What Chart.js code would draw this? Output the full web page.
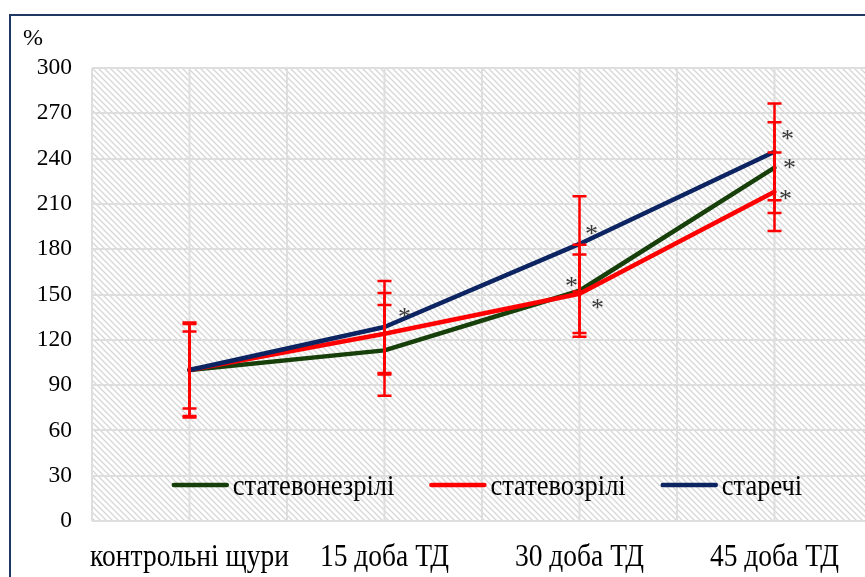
<!DOCTYPE html>
<html>
<head>
<meta charset="utf-8">
<script src="https://cdn.jsdelivr.net/npm/chart.js@4"></script>
<style>
  html, body { margin: 0; padding: 0; background: #fff; overflow: hidden; width: 865px; height: 577px; }
  #wrap { position: relative; width: 865px; height: 577px; overflow: hidden; }
  #frame { position: absolute; left: 9px; top: 14px; width: 1000px; height: 1000px;
           border: 2px solid #1f3864; box-sizing: border-box; }
  canvas { position: absolute; left: 0; top: 0; }
</style>
</head>
<body>
<div id="wrap">
  <div id="frame"></div>
  <canvas id="c" width="900" height="577"></canvas>
</div>
<script>
// Categories (time points) and tick values
const categories = ['контрольні щури', '15 доба ТД', '30 доба ТД', '45 доба ТД'];
const yTicks = [0, 30, 60, 90, 120, 150, 180, 210, 240, 270, 300];

// Series means, %
const immature = [100, 113, 152.5, 234];
const mature   = [100, 124, 150.5, 218];
const old      = [100, 128.5, 183.5, 244.5];

// Standard deviations, %
const immatureSd = [30.5, 30, 30.5, 30];
const matureSd   = [25.5, 27, 26, 26];
const oldSd      = [31.5, 30.5, 31.5, 32];

// Significance marks (*) per point
const immatureSig = [false, false, true, true];
const matureSig   = [false, false, true, true];
const oldSig      = [false, true, true, true];

const seriesNames = ['статевонезрілі', 'статевозрілі', 'старечі'];

const FONT = "'Liberation Serif', 'Times New Roman', serif";
const GRID = '#dedede';

// Diagonal hatch fill for the plot area
function makeHatch(ctx) {
  const t = document.createElement('canvas');
  t.width = 6; t.height = 6;
  const g = t.getContext('2d');
  g.fillStyle = '#ffffff';
  g.fillRect(0, 0, 6, 6);
  g.strokeStyle = '#d6d6d6';
  g.lineWidth = 1.3;
  g.beginPath();
  g.moveTo(-1, -1); g.lineTo(7, 7);
  g.moveTo(-1, 5); g.lineTo(1, 7);
  g.moveTo(5, -1); g.lineTo(7, 1);
  g.stroke();
  return ctx.createPattern(t, 'repeat');
}

// Text drawn with a slight vertical stretch (tall serif lettering)
function tallText(ctx, text, x, y, sy) {
  ctx.save();
  ctx.translate(x, y);
  ctx.scale(1, sy);
  ctx.fillText(text, 0, 0);
  ctx.restore();
}

const backdrop = {
  id: 'backdrop',
  beforeDraw(chart) {
    const { ctx, chartArea: a, scales: { x } } = chart;
    ctx.save();
    ctx.fillStyle = makeHatch(ctx);
    ctx.fillRect(a.left, a.top, a.right - a.left, a.bottom - a.top);
    // vertical grid: at each category and between categories
    const step = x.getPixelForValue(1) - x.getPixelForValue(0);
    ctx.strokeStyle = GRID;
    ctx.lineWidth = 2;
    ctx.beginPath();
    for (let i = 0; i < categories.length; i++) {
      const px = x.getPixelForValue(i);
      [px - step / 2, px, px + step / 2].forEach(v => {
        ctx.moveTo(v, a.top); ctx.lineTo(v, a.bottom);
      });
    }
    ctx.stroke();
    // axis unit
    ctx.fillStyle = '#000';
    ctx.font = '24px ' + FONT;
    ctx.textBaseline = 'alphabetic';
    ctx.fillText('%', 23, 45);
    // category labels
    ctx.font = '27.5px ' + FONT;
    ctx.textAlign = 'center';
    categories.forEach((c, i) => tallText(ctx, c, x.getPixelForValue(i), 566, 1.15));
    ctx.restore();
  }
};

const sdSets = [immatureSd, matureSd, oldSd];
const sigSets = [immatureSig, matureSig, oldSig];
// where each asterisk sits relative to its point
const sigOffsets = [
  [null, null, [-8, -9], [15, -4]],
  [null, null, [18, 10], [11, 3]],
  [null, [20, -14], [12, -14], [13, -17]]
];

const errorBars = {
  id: 'errorBars',
  afterDatasetsDraw(chart) {
    const { ctx, scales: { x, y } } = chart;
    ctx.save();
    ctx.strokeStyle = '#ff0000';
    ctx.lineWidth = 2.5;
    chart.data.datasets.forEach((ds, d) => {
      ds.data.forEach((v, i) => {
        const sd = sdSets[d][i];
        const px = x.getPixelForValue(i);
        const top = y.getPixelForValue(v + sd);
        const bot = y.getPixelForValue(v - sd);
        ctx.beginPath();
        ctx.moveTo(px, top); ctx.lineTo(px, bot);
        ctx.moveTo(px - 7, top); ctx.lineTo(px + 7, top);
        ctx.moveTo(px - 7, bot); ctx.lineTo(px + 7, bot);
        ctx.stroke();
      });
    });
    // significance asterisks
    ctx.fillStyle = '#3a3a3a';
    ctx.font = '26px ' + FONT;
    ctx.textAlign = 'center';
    ctx.textBaseline = 'alphabetic';
    chart.data.datasets.forEach((ds, d) => {
      ds.data.forEach((v, i) => {
        if (!sigSets[d][i]) return;
        const [dx, dy] = sigOffsets[d][i];
        ctx.fillText('*', x.getPixelForValue(i) + dx, y.getPixelForValue(v) + dy + 12);
      });
    });
    ctx.restore();
  }
};

const inlineLegend = {
  id: 'inlineLegend',
  afterDraw(chart) {
    const { ctx, chartArea: a } = chart;
    ctx.save();
    ctx.font = '26.5px ' + FONT;
    const sample = 53, gap = 6, itemGap = 37;
    const widths = chart.data.datasets.map(ds => sample + gap + ctx.measureText(ds.label).width);
    const total = widths.reduce((s, w) => s + w, 0) + itemGap * (widths.length - 1);
    let xPos = 488 - total / 2;
    const yPos = a.bottom - 36;
    chart.data.datasets.forEach((ds, i) => {
      ctx.strokeStyle = ds.borderColor;
      ctx.lineWidth = 4.5;
      ctx.lineCap = 'round';
      ctx.beginPath();
      ctx.moveTo(xPos, yPos); ctx.lineTo(xPos + sample, yPos);
      ctx.stroke();
      ctx.fillStyle = '#000';
      ctx.textBaseline = 'alphabetic';
      tallText(ctx, ds.label, xPos + sample + gap, yPos + 10, 1.1);
      xPos += widths[i] + itemGap;
    });
    ctx.restore();
  }
};

new Chart(document.getElementById('c'), {
  type: 'line',
  data: {
    labels: categories,
    datasets: [
      { label: seriesNames[0], data: immature, borderColor: '#163f0a', order: 2 },
      { label: seriesNames[1], data: mature,   borderColor: '#ff0000', order: 1 },
      { label: seriesNames[2], data: old,      borderColor: '#0c2461', order: 0 }
    ]
  },
  options: {
    responsive: false,
    animation: false,
    devicePixelRatio: 1,
    layout: { padding: { left: 0, top: 68, right: 28, bottom: 0 } },
    elements: {
      line: { borderWidth: 4.5, tension: 0, borderCapStyle: 'round', borderJoinStyle: 'round' },
      point: { radius: 0 }
    },
    plugins: { legend: { display: false }, tooltip: { enabled: false } },
    scales: {
      x: {
        type: 'category',
        offset: true,
        grid: { display: false },
        border: { display: false },
        ticks: { display: false },
        afterFit(s) { s.height = 56; }
      },
      y: {
        min: 0, max: 300,
        afterBuildTicks(s) { s.ticks = yTicks.map(v => ({ value: v })); },
        grid: { color: GRID, lineWidth: 2, drawTicks: false },
        border: { display: false },
        ticks: { color: '#000', font: { family: FONT, size: 23.5 }, padding: 20 },
        afterFit(s) { s.width = 92; }
      }
    }
  },
  plugins: [backdrop, errorBars, inlineLegend]
});
</script>
</body>
</html>
